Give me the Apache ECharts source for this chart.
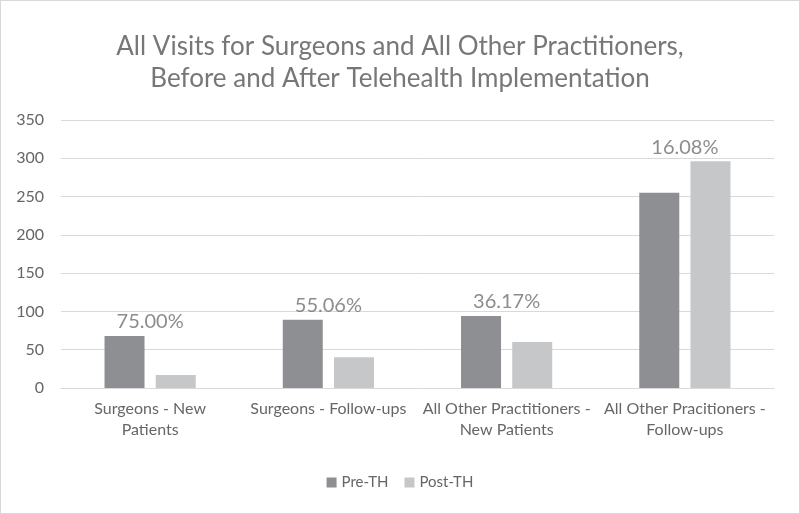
<!DOCTYPE html>
<html>
<head>
<meta charset="utf-8">
<script src="https://cdn.jsdelivr.net/npm/echarts@6/dist/echarts.min.js"></script>
<style>
  html, body { margin: 0; padding: 0; background: #fff; }
  #chart { width: 800px; height: 514px; box-sizing: border-box; border: 1px solid #d9d9d9; }
</style>
</head>
<body>
<div id="chart"></div>
<script>
// data
const categories = [
  'Surgeons - New\nPatients',
  'Surgeons - Follow-ups',
  'All Other Practitioners -\nNew Patients',
  'All Other Pracitioners -\nFollow-ups'
];
const preTH = [68, 89, 94, 255];
const postTH = [17, 40, 60, 296];
const changeLabels = ['75.00%', '55.06%', '36.17%', '16.08%'];
const yTicks = [0, 50, 100, 150, 200, 250, 300, 350];

const font = 'Lato, "Open Sans", sans-serif';
const chart = echarts.init(document.getElementById('chart'));

// label sits above the taller bar of each group
const labelHeights = preTH.map((v, i) => Math.max(v, postTH[i]));

const option = {
  animation: false,
  title: {
    text: 'All Visits for Surgeons and All Other Practitioners,\nBefore and After Telehealth Implementation',
    left: 'center',
    top: 25,
    textStyle: {
      fontFamily: font,
      fontSize: 26,
      fontWeight: 'normal',
      color: '#777',
      lineHeight: 32
    }
  },
  legend: {
    data: ['Pre-TH', 'Post-TH'],
    top: 469,
    left: 'center',
    icon: 'rect',
    itemWidth: 10,
    itemHeight: 10,
    itemGap: 16,
    textStyle: { fontFamily: font, fontSize: 15, color: '#666' }
  },
  grid: {
    left: 60,
    right: 25,
    top: 119,
    bottom: 125
  },
  xAxis: {
    type: 'category',
    data: categories,
    axisTick: { show: false },
    axisLine: { lineStyle: { color: '#d9d9d9' } },
    axisLabel: {
      fontFamily: font,
      fontSize: 16,
      color: '#666',
      lineHeight: 21,
      margin: 10,
      interval: 0
    }
  },
  yAxis: {
    type: 'value',
    min: yTicks[0],
    max: yTicks[yTicks.length - 1],
    interval: 50,
    axisLine: { show: false },
    axisTick: { show: false },
    splitLine: { lineStyle: { color: '#d9d9d9', width: 1 } },
    axisLabel: { fontFamily: font, fontSize: 16, color: '#666', margin: 17 }
  },
  series: [
    {
      name: 'Pre-TH',
      type: 'bar',
      data: preTH,
      barWidth: 40,
      barGap: '28%',
      itemStyle: { color: '#8e8f93' }
    },
    {
      name: 'Post-TH',
      type: 'bar',
      data: postTH,
      barWidth: 40,
      itemStyle: { color: '#c6c7c9' }
    },
    {
      name: 'change',
      type: 'scatter',
      data: labelHeights,
      symbolSize: 0,
      silent: true,
      label: {
        show: true,
        position: 'top',
        distance: 4,
        formatter: p => changeLabels[p.dataIndex],
        fontFamily: font,
        fontSize: 20,
        color: '#6f6f6f'
      }
    }
  ]
};
chart.setOption(option);
</script>
</body>
</html>
